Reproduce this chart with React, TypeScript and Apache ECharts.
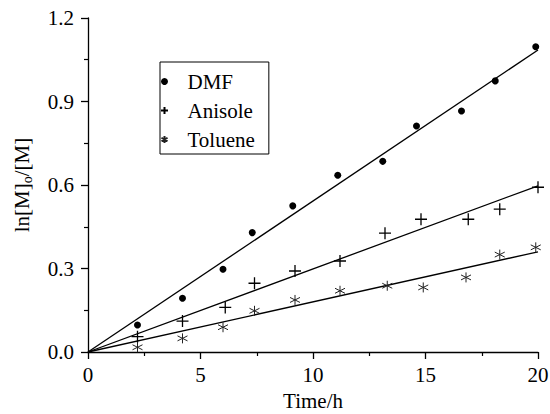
import React, { useEffect, useRef } from "react";
import * as echarts from "echarts";

const timeDMF = [2.2, 4.2, 6.0, 7.3, 9.1, 11.1, 13.1, 14.6, 16.6, 18.1, 19.9];
const valuesDMF = [0.097, 0.193, 0.297, 0.429, 0.525, 0.635, 0.685, 0.812, 0.866, 0.974, 1.097];
const timeAnisole = [2.2, 4.2, 6.1, 7.4, 9.2, 11.2, 13.2, 14.8, 16.9, 18.3, 20.0];
const valuesAnisole = [0.055, 0.111, 0.16, 0.247, 0.291, 0.327, 0.427, 0.477, 0.477, 0.513, 0.592];
const timeToluene = [2.2, 4.2, 6.0, 7.4, 9.2, 11.2, 13.3, 14.9, 16.8, 18.3, 19.9];
const valuesToluene = [0.017, 0.049, 0.089, 0.148, 0.187, 0.22, 0.238, 0.232, 0.268, 0.35, 0.376];

// linear fits through the origin: [start time, end time], [start value, end value]
const fitTimes = [0, 20];
const fitDMF = [0, 1.085];
const fitAnisole = [0, 0.597];
const fitToluene = [0, 0.36];

const seriesNames = ["DMF", "Anisole", "Toluene"];

const FONT = "Liberation Serif";

const zip = (xs: number[], ys: number[]) => xs.map((x, i) => [x, ys[i]]);

export default function App() {
  const ref = useRef<HTMLDivElement>(null);
  useEffect(() => {
    if (!ref.current) return;
    const chart = echarts.init(ref.current, null, { renderer: "svg" });
    const fitLine = (name: string, vals: number[]) => ({
      name,
      type: "line",
      data: zip(fitTimes, vals),
      symbol: "none",
      lineStyle: { color: "#000", width: 1.3 },
      silent: true,
      z: 1,
    });
    chart.setOption({
      animation: false,
      backgroundColor: "#fff",
      textStyle: { fontFamily: FONT },
      grid: { left: 88, right: 12, top: 18, bottom: 62, outerBoundsMode: "none" },
      legend: {
        orient: "vertical",
        left: 160,
        top: 62,
        data: seriesNames,
        padding: [9, 14, 4, 0],
        itemGap: 8,
        itemWidth: 36,
        itemHeight: 7,
        borderColor: "#000",
        borderWidth: 1,
        borderRadius: 0,
        textStyle: { fontFamily: FONT, fontSize: 21, lineHeight: 21, color: "#000" },
      },
      xAxis: {
        type: "value",
        min: 0,
        max: 20,
        interval: 5,
        name: "Time/h",
        nameLocation: "middle",
        nameGap: 38,
        nameTextStyle: { fontFamily: FONT, fontSize: 21, color: "#000" },
        axisLine: { show: true, onZero: false, lineStyle: { color: "#000", width: 1.3 } },
        axisTick: { show: true, length: 7, lineStyle: { color: "#000", width: 1.3 } },
        minorTick: { show: true, splitNumber: 2, length: 4, lineStyle: { color: "#000", width: 1.2 } },
        axisLabel: { fontFamily: FONT, fontSize: 21, color: "#000", margin: 12 },
        splitLine: { show: false },
      },
      yAxis: {
        type: "value",
        min: 0,
        max: 1.2,
        interval: 0.3,
        name: "{a|ln[M]}{s|o}{a|/[M]}",
        nameLocation: "middle",
        nameGap: 54,
        nameTextStyle: {
          color: "#000",
          fontFamily: FONT,
          rich: {
            a: { fontFamily: FONT, fontSize: 21, lineHeight: 24, color: "#000" },
            s: { fontFamily: FONT, fontSize: 14, lineHeight: 14, verticalAlign: "bottom", color: "#000" },
          },
        },
        axisLine: { show: true, onZero: false, lineStyle: { color: "#000", width: 1.3 } },
        axisTick: { show: true, length: 7, lineStyle: { color: "#000", width: 1.3 } },
        minorTick: { show: true, splitNumber: 2, length: 4, lineStyle: { color: "#000", width: 1.2 } },
        axisLabel: {
          fontFamily: FONT,
          fontSize: 21,
          color: "#000",
          margin: 14,
          formatter: (v: number) => v.toFixed(1),
        },
        splitLine: { show: false },
      },
      series: [
        {
          name: "DMF",
          type: "scatter",
          data: zip(timeDMF, valuesDMF),
          symbol: "circle",
          symbolSize: 7,
          itemStyle: { color: "#000", opacity: 1 },
          z: 3,
        },
        {
          name: "Anisole",
          type: "scatter",
          data: zip(timeAnisole, valuesAnisole),
          symbol: "path://M0,5 L10,5 M5,0 L5,10",
          symbolSize: 12,
          itemStyle: { color: "transparent", borderColor: "#000", borderWidth: 1.3, opacity: 1 },
          z: 3,
        },
        {
          name: "Toluene",
          type: "scatter",
          data: zip(timeToluene, valuesToluene),
          symbol: "path://M5,0 L5,10 M0.67,2.5 L9.33,7.5 M0.67,7.5 L9.33,2.5",
          symbolSize: 10,
          itemStyle: { color: "transparent", borderColor: "#222", borderWidth: 1, opacity: 1 },
          z: 3,
        },
        fitLine("DMF fit", fitDMF),
        fitLine("Anisole fit", fitAnisole),
        fitLine("Toluene fit", fitToluene),
      ],
    });
    return () => chart.dispose();
  }, []);
  return (
    <div
      ref={ref}
      style={{ position: "fixed", left: 0, top: 0, width: 550, height: 414 }}
    />
  );
}
